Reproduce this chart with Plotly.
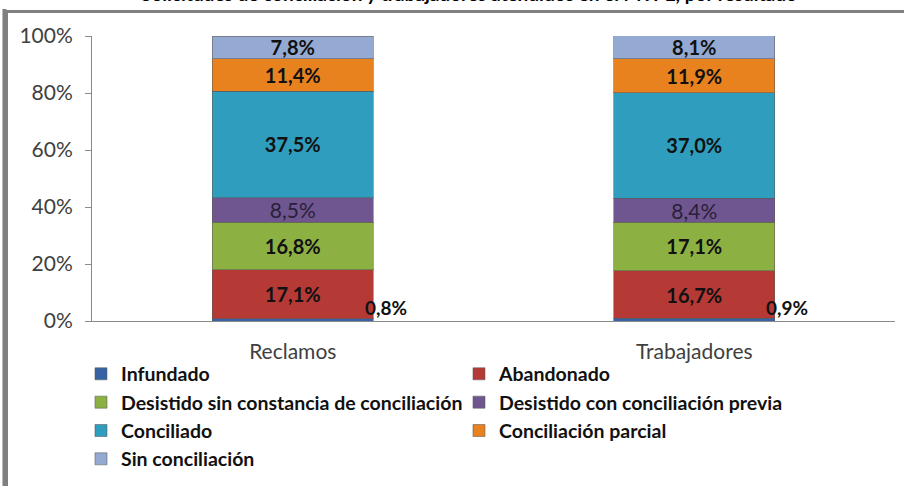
import plotly.graph_objects as go

categories = ["Reclamos", "Trabajadores"]
series_names = [
    "Infundado",
    "Abandonado",
    "Desistido sin constancia de conciliación",
    "Desistido con conciliación previa",
    "Conciliado",
    "Conciliación parcial",
    "Sin conciliación",
]
values = {
    "Infundado": [0.8, 0.9],
    "Abandonado": [17.1, 16.7],
    "Desistido sin constancia de conciliación": [16.8, 17.1],
    "Desistido con conciliación previa": [8.5, 8.4],
    "Conciliado": [37.5, 37.0],
    "Conciliación parcial": [11.4, 11.9],
    "Sin conciliación": [7.8, 8.1],
}
colors = {
    "Infundado": "#3763A6",
    "Abandonado": "#B53A36",
    "Desistido sin constancia de conciliación": "#8DB043",
    "Desistido con conciliación previa": "#6F5690",
    "Conciliado": "#2F9DBD",
    "Conciliación parcial": "#E8821F",
    "Sin conciliación": "#94AAD2",
}
title_text = "Solicitudes de conciliación y trabajadores atendidos en el MTPE, por resultado"

FONT = "Lato"

fig = go.Figure()
for name in series_names:
    is_plain = name == "Desistido con conciliación previa"
    show_inside = name != "Infundado"
    fig.add_trace(go.Bar(
        name=name,
        x=categories,
        y=values[name],
        width=0.4,
        marker=dict(color=colors[name], line=dict(color="rgba(90,90,90,0.55)", width=1)),
        texttemplate="%{y:.1f}%" if show_inside else None,
        textposition="inside" if show_inside else "none",
        insidetextanchor="middle",
        constraintext="none",
        textangle=0,
        textfont=dict(
            family=FONT,
            size=20 if not is_plain else 21,
            color="#2a1f38" if is_plain else "#111111",
            weight="normal" if is_plain else "bold",
        ),
        hoverinfo="skip",
    ))

# Outside labels for the thin "Infundado" segment
for cat, v in zip(categories, values["Infundado"]):
    fig.add_annotation(
        x=cat, y=0, xref="x", yref="y",
        text=f"{v:.1f}%".replace(".", ","),
        showarrow=False, xanchor="left", yanchor="bottom",
        xshift=70, yshift=0,
        font=dict(family=FONT, size=19, color="#111111", weight="bold"),
    )

# Title (cut off at top, as in the reference)
fig.add_annotation(
    x=0.47, y=1.101, xref="paper", yref="paper",
    text=f"<b>{title_text}</b>", showarrow=False,
    xanchor="center", yanchor="bottom",
    font=dict(family=FONT, size=19, color="#000000"),
)

# Chart frame: an empty bordered box whose top and left edges fall in the window
fig.add_annotation(
    x=-0.1085, y=1.0895, xref="paper", yref="paper",
    xanchor="left", yanchor="top",
    text=" ", showarrow=False,
    width=1000, height=600, borderpad=0,
    bordercolor="#808080", borderwidth=3,
    bgcolor="rgba(0,0,0,0)",
)

# Left frame edge as a band as well
fig.add_shape(
    type="rect", xref="paper", yref="paper", layer="above",
    x0=-0.1115, x1=-0.1065, y0=-0.7, y1=1.0947,
    fillcolor="#808080", line=dict(width=0),
)

fig.update_layout(
    barmode="stack",
    width=904, height=486,
    margin=dict(l=92, r=9, t=36, b=165, autoexpand=False),
    paper_bgcolor="white", plot_bgcolor="white",
    separators=",.",
    font=dict(family=FONT, color="#404040"),
    showlegend=True,
    legend=dict(
        orientation="h",
        x=-0.0137, xanchor="left",
        y=-0.118, yanchor="top",
        entrywidth=333, entrywidthmode="pixels",
        traceorder="normal",
        bgcolor="rgba(0,0,0,0)",
        font=dict(family=FONT, size=19.5, color="#111111", weight="bold"),
        itemclick=False,
    ),
    xaxis=dict(
        showline=True, linecolor="#8a8a8a", linewidth=1,
        ticks="", ticklabelstandoff=12,
        tickfont=dict(family=FONT, size=21, color="#404040"),
        showgrid=False,
    ),
    yaxis=dict(
        range=[0, 100], dtick=20, ticksuffix="%",
        showline=True, linecolor="#8a8a8a", linewidth=1,
        ticks="outside", ticklen=6, tickcolor="#8a8a8a",
        ticklabelstandoff=8,
        tickfont=dict(family=FONT, size=21, color="#404040"),
        showgrid=False, zeroline=False,
    ),
)

fig.write_html(
    "out.html",
    config={"displayModeBar": False},
    post_script="document.body.style.margin='0';document.body.style.overflow='hidden';",
)
